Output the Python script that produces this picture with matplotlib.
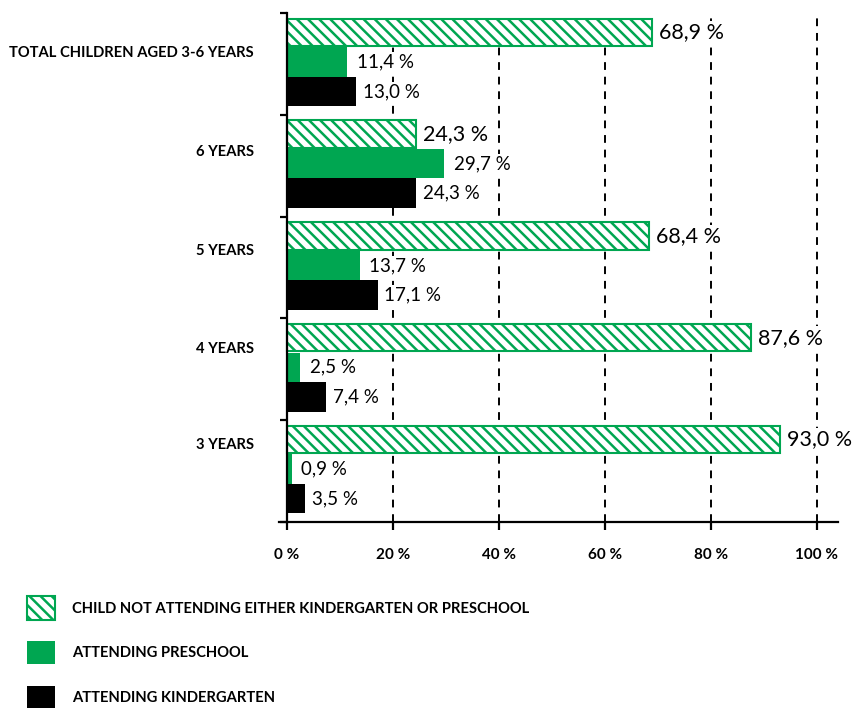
import matplotlib.pyplot as plt
from matplotlib.patches import Patch

# ==== data ====
groups = ["3 YEARS", "4 YEARS", "5 YEARS", "6 YEARS", "TOTAL CHILDREN AGED 3-6 YEARS"]
not_attending = [93.0, 87.6, 68.4, 24.3, 68.9]
preschool = [0.9, 2.5, 13.7, 29.7, 11.4]
kindergarten = [3.5, 7.4, 17.1, 24.3, 13.0]
xticks = [0, 20, 40, 60, 80, 100]
legend_labels = ["CHILD NOT ATTENDING EITHER KINDERGARTEN OR PRESCHOOL",
                 "ATTENDING PRESCHOOL",
                 "ATTENDING KINDERGARTEN"]

GREEN = "#00a651"
plt.rcParams['font.family'] = ['Lato', 'DejaVu Sans']
plt.rcParams['hatch.linewidth'] = 1.8

fig = plt.figure(figsize=(8.61, 7.08), dpi=100)
ax = fig.add_axes([287 / 861 - 8 / 861, 186 / 708, 559 / 861, 509 / 708])

def fmt(v):
    return f"{v:.1f} %".replace(".", ",")

box = dict(facecolor="white", edgecolor="none", pad=1)
h = 0.29
for i in range(len(groups)):
    # one group per unit, three stacked bars inside it
    y_hatch, y_pre, y_kg = i + 0.81, i + 0.52, i + 0.23
    ax.barh(y_hatch, not_attending[i], height=h - 0.02, color="white",
            edgecolor=GREEN, hatch="\\\\\\", linewidth=1.5, zorder=3)
    ax.barh(y_pre, preschool[i], height=h, color=GREEN, zorder=3)
    ax.barh(y_kg, kindergarten[i], height=h, color="black", zorder=3)
    ax.annotate(fmt(not_attending[i]), (not_attending[i], y_hatch),
                xytext=(5, 0), textcoords="offset points", bbox=box, zorder=5,
                va="center", ha="left", fontsize=15.5)
    ax.annotate(fmt(preschool[i]), (preschool[i], y_pre),
                xytext=(7, 0), textcoords="offset points", bbox=box, zorder=5,
                va="center", ha="left", fontsize=13.5)
    ax.annotate(fmt(kindergarten[i]), (kindergarten[i], y_kg),
                xytext=(5, 0), textcoords="offset points", bbox=box, zorder=5,
                va="center", ha="left", fontsize=13.5)

# dashed guide lines
for x in xticks[1:]:
    ax.axvline(x, color="black", linestyle=(0, (4, 3.5)), linewidth=1.4, zorder=1)

ax.set_xlim(-1.5, 104)
ax.set_ylim(0, 5)

for s in ["top", "right"]:
    ax.spines[s].set_visible(False)
ax.spines['left'].set_position(('data', 0))
ax.spines['left'].set_linewidth(1.6)
ax.spines['bottom'].set_linewidth(1.6)
ax.spines['left'].set_zorder(4)

ax.set_xticks(xticks)
ax.set_xticklabels([f"{t} %" for t in xticks], fontsize=11, fontweight="bold")
ax.tick_params(axis="x", direction="out", length=6, width=1.6, pad=13)

# group boundaries as minor ticks, labels as major ticks
ax.set_yticks(range(0, 6), minor=True)
ax.set_yticks([0.77, 1.71, 2.68, 3.65, 4.62])
ax.set_yticklabels(groups, fontsize=10.6, fontweight="bold")
ax.tick_params(axis="y", which="major", length=0, pad=24)
ax.tick_params(axis="y", which="minor", direction="out", length=5, width=1.6)

handles = [Patch(facecolor="white", edgecolor=GREEN, hatch="\\\\\\", linewidth=1.5),
           Patch(facecolor=GREEN), Patch(facecolor="black")]
fig.legend(handles, legend_labels, loc="upper left", bbox_to_anchor=(0.024, 0.166),
           frameon=False, prop={'weight': 'bold', 'size': 10.6},
           handlelength=1.9, handleheight=2.05, labelspacing=1.45, handletextpad=1.2,
           borderaxespad=0)

fig.savefig("out.png", dpi=100)
